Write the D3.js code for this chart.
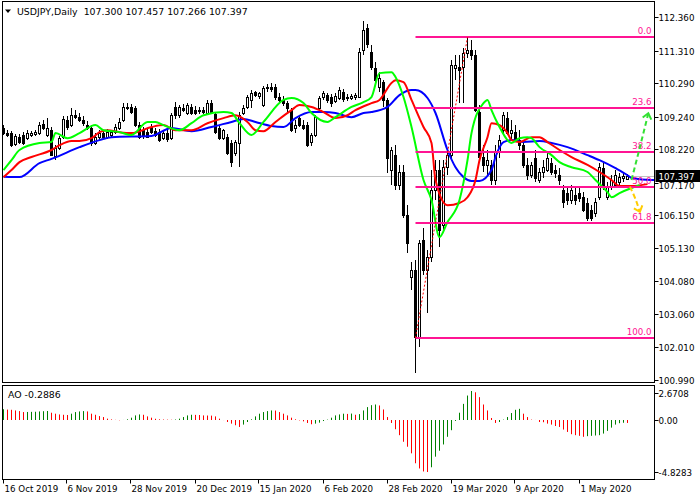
<!DOCTYPE html>
<html><head><meta charset="utf-8">
<script src="https://cdn.jsdelivr.net/npm/d3@7"></script>
<style>body{margin:0;background:#fff}svg{display:block}text{font-family:"DejaVu Sans",sans-serif}</style>
</head><body><svg id="c" width="700" height="500"></svg>
<script>
const symbolTitle = "USDJPY,Daily";
const lastOHLC = [107.300, 107.457, 107.266, 107.397];
const opens = [108.89,108.73,108.73,108.39,108.60,108.67,108.57,108.67,108.70,108.73,109.01,108.67,108.82,108.01,108.26,108.60,109.14,108.98,109.29,109.23,
109.14,108.98,108.89,108.42,108.60,108.73,108.60,108.67,108.76,108.89,109.14,109.51,109.55,109.51,108.98,108.82,108.76,108.92,108.79,108.76,
108.57,108.73,108.57,109.55,109.29,109.51,109.36,109.55,109.45,109.42,109.45,109.36,109.67,109.33,108.89,108.57,108.60,108.42,108.10,108.42,
109.36,109.55,109.77,110.02,109.89,109.61,110.14,110.17,110.17,109.86,109.77,109.67,109.45,108.89,109.20,108.98,108.98,108.45,108.67,109.51,
109.86,109.92,109.86,109.73,109.83,110.02,109.83,109.83,109.86,109.86,111.33,112.02,111.27,110.77,110.17,110.33,109.77,107.57,108.04,107.10,
107.51,106.16,104.22,104.44,102.33,105.38,104.44,104.84,106.94,107.57,105.85,107.67,108.04,110.77,110.80,110.80,111.24,111.33,111.18,109.39,
107.98,107.73,107.73,107.26,108.13,108.82,109.20,108.73,108.76,108.51,108.35,107.73,107.41,107.95,107.26,107.51,107.57,107.79,107.57,107.41,
106.94,106.85,106.63,106.79,106.85,106.72,106.54,106.32,106.22,106.72,107.63,106.72,107.04,107.10,107.19,107.32,107.300];
const highs = [108.98,108.82,108.79,108.70,108.70,108.76,108.82,108.79,108.82,109.08,109.14,109.20,108.92,108.35,108.64,109.26,109.26,109.51,109.45,109.36,
109.26,109.11,108.98,108.73,108.82,108.82,108.86,108.82,109.01,109.20,109.67,109.67,109.64,109.58,109.08,108.92,108.89,109.01,108.89,108.86,
108.79,108.86,109.36,109.70,109.61,109.64,109.67,109.64,109.58,109.55,109.55,109.77,109.77,109.39,108.95,108.86,108.70,108.51,108.51,109.39,
109.61,109.92,110.08,110.05,110.02,110.20,110.27,110.30,110.27,109.98,109.89,109.73,109.51,109.14,109.29,109.14,109.08,108.73,109.29,109.89,
110.05,109.98,109.95,109.98,110.17,110.11,109.95,109.95,109.98,111.40,112.24,112.15,111.49,110.96,110.64,110.39,109.83,108.29,108.35,107.73,
107.73,106.47,104.69,104.75,105.38,105.75,105.06,107.57,107.88,107.88,107.88,108.20,111.02,111.18,111.18,111.40,111.71,111.65,111.33,109.61,
108.35,108.20,107.88,108.35,108.67,109.39,109.39,109.14,108.98,108.82,108.51,107.95,107.82,108.20,107.63,107.88,108.13,107.95,107.73,107.63,
107.10,107.01,107.10,107.01,107.01,106.88,106.69,106.47,106.69,107.79,107.79,107.19,107.41,107.57,107.48,107.51,107.457];
const lows = [108.67,108.60,108.29,108.32,108.39,108.35,108.51,108.60,108.64,108.67,108.82,108.60,108.01,107.88,108.20,108.54,108.82,108.92,109.17,109.08,
108.95,108.82,108.32,108.35,108.51,108.54,108.54,108.60,108.70,108.82,109.08,109.45,109.33,108.92,108.54,108.54,108.57,108.70,108.60,108.45,
108.51,108.45,108.51,109.17,109.20,109.39,109.29,109.29,109.29,109.33,109.33,109.29,109.33,108.70,108.51,108.51,108.04,107.67,108.01,107.67,
109.29,109.48,109.51,109.86,109.80,109.55,110.02,110.02,109.77,109.70,109.58,109.39,108.76,108.73,108.92,108.82,108.29,108.32,108.60,109.45,
109.77,109.67,109.55,109.67,109.77,109.70,109.73,109.77,109.77,109.83,111.18,111.40,110.71,110.24,110.02,109.55,107.48,107.10,106.94,106.94,
106.06,104.97,103.81,101.21,102.02,104.28,103.09,104.69,106.63,105.16,105.69,107.41,107.88,110.39,109.67,109.67,111.08,111.02,109.39,107.88,
107.51,107.41,107.10,107.10,107.95,108.67,108.67,108.51,108.45,108.20,107.63,107.26,107.32,107.19,107.16,107.32,107.51,107.41,107.32,107.10,
106.38,106.47,106.50,106.47,106.57,106.25,105.97,105.97,106.10,106.63,106.94,106.63,106.94,107.01,107.10,107.19,107.266];
const closes = [108.73,108.67,108.35,108.64,108.45,108.42,108.73,108.73,108.76,108.98,108.89,108.89,108.04,108.26,108.57,109.17,108.92,109.29,109.23,109.14,
109.04,108.89,108.42,108.60,108.73,108.60,108.76,108.76,108.92,109.08,109.55,109.55,109.39,108.98,108.60,108.64,108.60,108.76,108.67,108.51,
108.73,108.54,109.29,109.29,109.55,109.45,109.61,109.36,109.36,109.45,109.39,109.67,109.39,108.76,108.57,108.82,108.10,107.82,108.45,109.29,
109.51,109.86,109.98,109.92,109.98,110.14,110.17,110.11,109.86,109.77,109.67,109.51,108.82,108.98,108.98,108.89,108.35,108.67,109.23,109.83,
109.98,109.77,109.67,109.89,110.08,109.80,109.86,109.89,109.92,111.27,111.96,111.52,110.80,110.39,110.45,109.77,107.95,108.20,107.10,107.51,
106.16,105.28,104.44,102.33,105.28,104.44,104.84,106.94,107.57,105.69,107.67,108.04,110.86,110.86,110.71,111.24,111.33,111.18,109.45,107.98,
107.73,107.88,107.26,108.13,108.51,109.29,108.73,108.82,108.51,108.35,107.73,107.41,107.73,107.32,107.51,107.67,107.95,107.51,107.48,107.26,
106.57,106.63,106.94,106.63,106.70,106.32,106.07,106.07,106.57,107.67,107.04,107.04,107.26,107.41,107.35,107.38,107.397];
const aoValues = [0.98,0.95,0.93,0.87,0.81,0.72,0.73,0.74,0.75,0.78,0.80,0.82,0.66,0.57,0.50,0.47,0.45,0.57,0.72,0.78,
0.81,0.78,0.57,0.47,0.35,0.26,0.11,0.04,0.00,-0.04,-0.01,0.05,0.20,0.41,0.50,0.47,0.32,0.20,0.10,0.05,
0.03,0.02,0.01,0.03,0.11,0.26,0.41,0.47,0.46,0.45,0.41,0.40,0.39,0.32,0.11,-0.02,-0.20,-0.35,-0.50,-0.66,
-0.44,-0.20,0.05,0.32,0.57,0.72,0.81,0.87,0.86,0.72,0.57,0.41,0.20,0.05,-0.05,-0.14,-0.29,-0.41,-0.35,-0.26,
-0.11,0.02,0.20,0.41,0.50,0.57,0.55,0.58,0.47,0.53,0.87,1.18,1.36,1.42,1.33,0.96,0.26,-0.29,-0.87,-1.42,
-2.03,-2.49,-3.10,-4.02,-4.50,-4.78,-4.8283,-4.39,-3.41,-2.86,-2.28,-1.57,-0.96,-0.10,0.66,1.48,2.25,2.6708,2.55,2.10,
1.42,0.87,0.17,-0.29,-0.20,0.02,0.26,0.63,0.93,1.02,0.57,0.26,0.02,-0.01,-0.20,-0.22,-0.35,-0.44,-0.57,-0.66,
-0.90,-1.12,-1.33,-1.42,-1.48,-1.57,-1.51,-1.48,-1.45,-1.42,-1.27,-1.02,-0.72,-0.44,-0.31,-0.27,-0.2886];
// Alligator lines: [bar index, price]
const jaw = [[0,107.36],[4,107.35],[9,107.79],[12,107.92],[19,108.29],[24,108.51],[27,108.60],[37,108.64],[42,108.89],[47,108.79],[52,108.92],[57,109.08],[60,109.17],[63,109.08],[67,108.95],[70,108.92],[73,109.20],[77,109.39],[80,109.39],[83,109.36],[87,109.23],[90,109.36],[92,109.39],[96,109.55],[99,109.92],[102,110.08],[103,110.08],[106,109.83],[108,109.36],[111,108.20],[113,107.66],[115,107.35],[117,107.23],[119,107.23],[122,107.57],[123,107.98],[125,108.45],[127,108.51],[130,108.45],[134,108.48],[137,108.42],[141,108.29],[146,108.04],[149,107.88],[153,107.63],[156,107.41],[157,107.32],[162,107.26],[164,107.26]];
const teeth = [[0,107.35],[2,107.57],[4,107.82],[7,107.98],[12,108.20],[14,108.35],[17,108.48],[19,108.48],[22,108.57],[24,108.76],[26,108.82],[29,108.76],[32,108.73],[37,108.92],[40,108.98],[43,108.82],[47,108.82],[51,109.04],[55,109.20],[58,109.29],[61,109.08],[63,108.82],[65,108.79],[68,109.08],[72,109.45],[74,109.61],[77,109.55],[80,109.39],[83,109.20],[86,109.29],[88,109.45],[92,109.67],[94,109.77],[97,110.30],[98,110.39],[100,110.33],[102,109.77],[105,108.92],[107,108.42],[108,107.26],[111,106.47],[114,106.54],[116,106.72],[118,107.26],[119,107.88],[121,108.60],[122,109.04],[124,108.98],[126,108.73],[127,108.51],[129,108.45],[132,108.60],[134,108.60],[136,108.45],[139,108.20],[142,107.98],[146,107.73],[149,107.51],[152,107.26],[154,107.07],[157,107.07],[161,107.13]];
const lips = [[0,107.57],[2,107.88],[4,108.20],[9,108.42],[12,108.45],[13,108.73],[16,108.57],[19,108.73],[23,108.98],[25,108.82],[29,108.76],[32,108.67],[36,109.08],[38,109.08],[40,108.98],[44,108.82],[47,109.04],[50,109.29],[55,109.39],[57,109.36],[59,109.04],[62,108.67],[65,109.08],[70,109.77],[72,109.83],[75,109.67],[77,109.36],[81,109.08],[83,109.23],[87,109.55],[90,109.70],[92,109.86],[94,110.61],[97,110.64],[98,110.49],[100,109.86],[102,108.92],[105,107.26],[107,106.63],[109,105.47],[111,105.94],[114,106.63],[116,107.88],[117,108.73],[120,109.67],[121,109.77],[122,109.45],[124,108.92],[126,108.51],[127,108.42],[129,108.57],[131,108.60],[132,108.57],[134,108.29],[137,108.04],[139,107.82],[142,107.66],[146,107.51],[148,107.26],[151,106.88],[152,106.72],[154,106.85],[157,107.01],[159,107.10]];
const priceTicks = [112.36,111.31,110.29,109.24,108.22,107.17,106.15,105.13,104.08,103.06,102.01,100.99];
const aoTicks = [2.6708, 0, -4.8283];
const aoTickLabels = ["2.6708","0.00","-4.8283"];
const dateLabels = ["16 Oct 2019","6 Nov 2019","28 Nov 2019","20 Dec 2019","15 Jan 2020","6 Feb 2020","28 Feb 2020","19 Mar 2020","9 Apr 2020","1 May 2020"];
const dateIndex = [0,16,32,48,64,80,96,112,128,144];
const fibLevels = [0, 23.6, 38.2, 50, 61.8, 100];
const fibLabels = ["0.0","23.6","38.2","50.0","61.8","100.0"];
const fibHigh = 111.74, fibLow = 102.31, fibStartIdx = 103, fibHighIdx = 116;
const arrowUp = [[157.0,107.26],[159.1,108.29],[161.2,109.35]];
const arrowDown = [[156.6,107.05],[157.9,106.69],[159.1,106.26]];

const fmt = (f) => (v) => d3.format(f)(v).replace('\u2212','-');
const svg = d3.select('#c');
const x = d3.scaleLinear().domain([0,156]).range([3.5,627.5]);
const y = d3.scaleLinear().domain([100.99,112.36]).range([380,17.3]);
const yAO = d3.scaleLinear().domain([-4.8283,2.6708]).range([472,391]);
const L=2.5, R=654.5, T=1.5, B=382.5, AT=385.5, AB=479.5;

const defs = svg.append('defs');
defs.append('clipPath').attr('id','mainClip').append('rect').attr('x',L+0.5).attr('y',T+0.5).attr('width',R-L-1).attr('height',B-T-1);

const main = svg.append('g').attr('clip-path','url(#mainClip)');
// current price line
const lastY = Math.round(y(lastOHLC[3]))+0.5;
main.append('line').attr('x1',L).attr('x2',R).attr('y1',lastY).attr('y2',lastY).attr('stroke','#c0c0c0').attr('stroke-width',1);

// candles
const bars = d3.range(closes.length);
const cg = main.append('g');
bars.forEach(i=>{
  const cx = x(i);
  const o=opens[i], c=closes[i], h=highs[i], l=lows[i];
  cg.append('line').attr('x1',cx).attr('x2',cx).attr('y1',Math.round(y(h))).attr('y2',Math.round(y(l))).attr('stroke','#000').attr('stroke-width',1);
  const top = Math.round(y(Math.max(o,c)))+0.5, bot = Math.round(y(Math.min(o,c)))+0.5;
  cg.append('rect').attr('x',cx-1).attr('width',2).attr('y',top).attr('height',Math.max(0,bot-top))
    .attr('fill', c>=o ? '#fff' : '#000').attr('stroke','#000').attr('stroke-width',1);
});

// alligator
const lineGen = d3.line().x(d=>x(d[0])).y(d=>y(d[1])).curve(d3.curveMonotoneX);
[[jaw,'#0000ff'],[teeth,'#ff0000'],[lips,'#00ff00']].forEach(([data,col])=>{
  main.append('path').datum(data).attr('d',lineGen).attr('fill','none').attr('stroke',col).attr('stroke-width',2);
});

// fib
const fibPrice = lv => fibHigh - (fibHigh-fibLow)*lv/100;
const fg = main.append('g');
fibLevels.forEach((lv,k)=>{
  const yy = Math.round(y(fibPrice(lv)));
  fg.append('line').attr('x1',x(fibStartIdx)).attr('x2',R).attr('y1',yy).attr('y2',yy).attr('stroke','#ff1493').attr('stroke-width',2);
  fg.append('text').attr('x',R-3).attr('y',yy-3).attr('text-anchor','end').attr('font-size','8.7px').attr('fill','#ff1493').text(fibLabels[k]);
});
fg.append('line').attr('x1',x(fibStartIdx)).attr('y1',y(fibLow)).attr('x2',x(fibHighIdx)).attr('y2',y(fibHigh))
  .attr('stroke','#ff0000').attr('stroke-width',1).attr('stroke-dasharray','2,2');

// arrows
const arrowGen = d3.line().x(d=>x(d[0])).y(d=>y(d[1])).curve(d3.curveNatural);
function arrow(data,col){
  main.append('path').datum(data).attr('d',arrowGen).attr('fill','none').attr('stroke',col).attr('stroke-width',2).attr('stroke-dasharray','5,3');
  const n=data.length, tip=[x(data[n-1][0]),y(data[n-1][1])], prev=[x(data[n-2][0]),y(data[n-2][1])];
  const ang=Math.atan2(tip[1]-prev[1],tip[0]-prev[0]);
  const a1=ang+Math.PI*0.78, a2=ang-Math.PI*0.78, len=7;
  main.append('path').attr('d',`M${tip[0]+len*Math.cos(a1)},${tip[1]+len*Math.sin(a1)}L${tip[0]},${tip[1]}L${tip[0]+len*Math.cos(a2)},${tip[1]+len*Math.sin(a2)}`)
    .attr('fill','none').attr('stroke',col).attr('stroke-width',2);
}
arrow(arrowUp,'#33e033');
arrow(arrowDown,'#ffcc00');

// AO histogram
const ag = svg.append('g');
bars.forEach(i=>{
  const v=aoValues[i];
  const col = (i===0 || v>aoValues[i-1]) ? '#008000' : '#ff0000';
  ag.append('line').attr('x1',x(i)).attr('x2',x(i)).attr('y1',Math.round(yAO(0))).attr('y2',yAO(v)).attr('stroke',col).attr('stroke-width',1);
});

// frames
const fr = svg.append('g').attr('stroke','#000').attr('stroke-width',1).attr('fill','none');
fr.append('rect').attr('x',L).attr('y',T).attr('width',R-L).attr('height',B-T);
fr.append('rect').attr('x',L).attr('y',AT).attr('width',R-L).attr('height',AB-AT);

// price axis
const ax = svg.append('g').attr('font-size','8.7px').attr('fill','#000');
priceTicks.forEach(p=>{
  const yy=Math.round(y(p))+0.5;
  ax.append('line').attr('x1',R).attr('x2',R+4).attr('y1',yy).attr('y2',yy).attr('stroke','#000');
  // label partly hidden behind the current-price box, as in the terminal
  ax.append('text').attr('x',R+4).attr('y',yy).attr('dy', Math.abs(yy-lastY)<9 ? '0.6em' : '0.35em').text(fmt('.3f')(p));
});
// last price box
ax.append('rect').attr('x',R+1).attr('y',lastY-6.5).attr('width',45).attr('height',12).attr('fill','#000');
ax.append('text').attr('x',R+4).attr('y',lastY).attr('dy','0.35em').attr('fill','#fff').text(fmt('.3f')(lastOHLC[3]));

// AO axis
aoTicks.forEach((v,k)=>{
  const yy=Math.round(Math.min(472, Math.max(393, yAO(v))))+0.5;
  ax.append('line').attr('x1',R).attr('x2',R+4).attr('y1',yy).attr('y2',yy).attr('stroke','#000');
  ax.append('text').attr('x',R+4).attr('y',yy).attr('dy','0.35em').text(aoTickLabels[k]);
});

// date axis
dateIndex.forEach((di,k)=>{
  const xx=Math.round(x(di))-0.5;
  ax.append('line').attr('x1',xx).attr('x2',xx).attr('y1',AB).attr('y2',AB+4).attr('stroke','#000');
  ax.append('text').attr('x',xx+1).attr('y',492).text(dateLabels[k]);
});

// titles
svg.append('path').attr('d','M5,9.5L11,9.5L8,13Z').attr('fill','#000');
svg.append('text').attr('x',17).attr('y',15).attr('font-size','9.4px').style('white-space','pre')
  .text(symbolTitle+'  '+lastOHLC.map(fmt('.3f')).join(' '));
svg.append('text').attr('x',8).attr('y',398).attr('font-size','9.4px').text('AO '+fmt('.4f')(aoValues[aoValues.length-1]));
</script></body></html>
